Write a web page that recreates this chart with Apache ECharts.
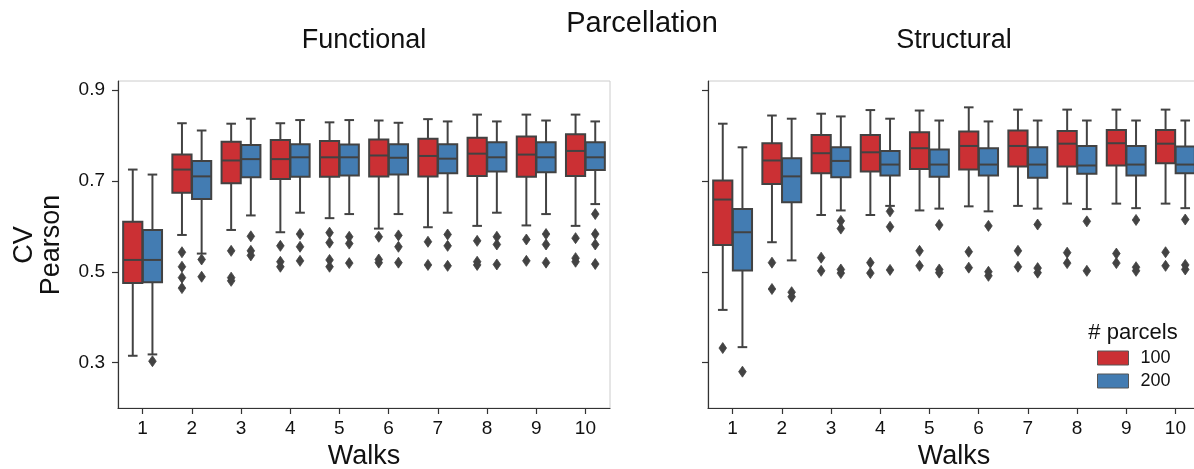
<!DOCTYPE html>
<html>
<head>
<meta charset="utf-8">
<script src="https://cdn.jsdelivr.net/npm/echarts@6/dist/echarts.min.js"></script>
<style>
html,body{margin:0;padding:0;background:#ffffff;}
#chart{width:1194px;height:469px;}
</style>
</head>
<body>
<div id="chart"></div>
<script>
// ---------------- data ----------------
const walks = ['1','2','3','4','5','6','7','8','9','10'];
const parcels = ['100','200'];
const yTicks = [0.3, 0.5, 0.7, 0.9];

// box stats per walk: [lower whisker, Q1, median, Q3, upper whisker]
const funcBox100 = [
  [0.315,0.475,0.526,0.610,0.725],[0.581,0.674,0.725,0.758,0.827],[0.592,0.695,0.745,0.786,0.826],
  [0.587,0.704,0.748,0.790,0.827],[0.618,0.709,0.752,0.788,0.829],[0.595,0.710,0.756,0.791,0.833],
  [0.598,0.710,0.755,0.793,0.836],[0.601,0.711,0.760,0.795,0.846],[0.602,0.709,0.758,0.798,0.846],
  [0.601,0.711,0.766,0.803,0.846]
];
const funcBox200 = [
  [0.318,0.477,0.526,0.592,0.714],[0.540,0.660,0.710,0.744,0.811],[0.624,0.708,0.748,0.779,0.837],
  [0.630,0.709,0.752,0.781,0.834],[0.627,0.712,0.752,0.780,0.834],[0.627,0.714,0.751,0.781,0.828],
  [0.630,0.717,0.749,0.781,0.831],[0.630,0.721,0.752,0.785,0.831],[0.627,0.719,0.752,0.785,0.833],
  [0.649,0.724,0.752,0.785,0.831]
];
const structBox100 = [
  [0.416,0.559,0.659,0.701,0.826],[0.565,0.693,0.745,0.783,0.844],[0.625,0.717,0.761,0.801,0.848],
  [0.625,0.721,0.763,0.801,0.856],[0.635,0.726,0.772,0.807,0.855],[0.644,0.725,0.777,0.809,0.862],
  [0.645,0.732,0.777,0.811,0.857],[0.650,0.732,0.782,0.810,0.857],[0.650,0.734,0.783,0.812,0.857],
  [0.650,0.739,0.782,0.812,0.857]
];
const structBox200 = [
  [0.334,0.503,0.587,0.638,0.774],[0.525,0.653,0.710,0.750,0.837],[0.635,0.708,0.744,0.774,0.842],
  [0.645,0.712,0.736,0.766,0.837],[0.639,0.709,0.736,0.769,0.833],[0.633,0.712,0.736,0.772,0.831],
  [0.639,0.707,0.736,0.774,0.833],[0.638,0.716,0.734,0.777,0.833],[0.640,0.712,0.736,0.777,0.833],
  [0.640,0.717,0.736,0.776,0.833]
];

// outliers per walk
const funcOut100 = [
  [],[0.543,0.511,0.487,0.464],[0.546,0.487,0.480],[0.557,0.522,0.511],[0.586,0.564,0.526,0.511],
  [0.577,0.527,0.520],[0.566,0.515],[0.568,0.522,0.515],[0.571,0.524],[0.574,0.530,0.522]
];
const funcOut200 = [
  [0.303],[0.527,0.489],[0.578,0.546,0.536],[0.583,0.555,0.524],[0.577,0.562,0.519],
  [0.580,0.555,0.520],[0.582,0.557,0.513],[0.577,0.560,0.516],[0.583,0.560,0.520],[0.627,0.583,0.560,0.517]
];
const structOut100 = [
  [0.332],[0.520,0.462],[0.531,0.502],[0.520,0.497],[0.546,0.513],
  [0.544,0.509],[0.546,0.511],[0.542,0.519],[0.540,0.519],[0.543,0.513]
];
const structOut200 = [
  [0.280],[0.455,0.445],[0.612,0.595,0.505,0.497],[0.633,0.599,0.504],[0.603,0.505,0.498],
  [0.601,0.500,0.491],[0.604,0.508,0.498],[0.611,0.502],[0.614,0.510,0.502],[0.615,0.515,0.505]
];

// ---------------- styling ----------------
const RED = '#CB3034';
const BLUE = '#437CB2';
const EDGE = '#424242';
const AXIS = '#333333';
const FONT = '"Liberation Sans", Arial, Helvetica, sans-serif';

function boxData(stats){ return stats.map((s,i)=>[i].concat(s)); }
function outData(outs){
  const d=[]; outs.forEach((arr,i)=>arr.forEach(v=>d.push([i,v]))); return d;
}

function boxRenderer(sign, color){
  return function(params, api){
    const xi = api.value(0);
    const band = api.size([1,0])[0];
    const w = band*0.39;
    const cx = api.coord([xi, api.value(3)])[0] + sign*band*0.2;
    const y = k => api.coord([xi, api.value(k)])[1];
    const yLo=y(1), yQ1=y(2), yMed=y(3), yQ3=y(4), yHi=y(5);
    const ls = {stroke:EDGE, lineWidth:2};
    return {type:'group', children:[
      {type:'line', shape:{x1:cx,y1:yQ3,x2:cx,y2:yHi}, style:ls},
      {type:'line', shape:{x1:cx,y1:yQ1,x2:cx,y2:yLo}, style:ls},
      {type:'line', shape:{x1:cx-w/4,y1:yHi,x2:cx+w/4,y2:yHi}, style:ls},
      {type:'line', shape:{x1:cx-w/4,y1:yLo,x2:cx+w/4,y2:yLo}, style:ls},
      {type:'rect', shape:{x:cx-w/2,y:yQ3,width:w,height:yQ1-yQ3}, style:{fill:color, stroke:EDGE, lineWidth:2}},
      {type:'line', shape:{x1:cx-w/2,y1:yMed,x2:cx+w/2,y2:yMed}, style:ls}
    ]};
  };
}
function outRenderer(sign){
  return function(params, api){
    const band = api.size([1,0])[0];
    const p = api.coord([api.value(0), api.value(1)]);
    const cx = p[0] + sign*band*0.2, cy = p[1];
    return {type:'polygon', shape:{points:[[cx,cy-5.5],[cx+3.8,cy],[cx,cy+5.5],[cx-3.8,cy]]},
            style:{fill:EDGE, stroke:EDGE, lineWidth:0.8}};
  };
}

function panelSeries(gi, box100, box200, out100, out200){
  return [
    {type:'custom', name:parcels[0], xAxisIndex:gi, yAxisIndex:gi, renderItem:boxRenderer(-1,RED),
     data:boxData(box100), encode:{x:0, y:[1,2,3,4,5]}, itemStyle:{color:RED}},
    {type:'custom', name:parcels[1], xAxisIndex:gi, yAxisIndex:gi, renderItem:boxRenderer(1,BLUE),
     data:boxData(box200), encode:{x:0, y:[1,2,3,4,5]}, itemStyle:{color:BLUE}},
    {type:'custom', name:parcels[0], xAxisIndex:gi, yAxisIndex:gi, renderItem:outRenderer(-1),
     data:outData(out100), encode:{x:0, y:1}, itemStyle:{color:RED}},
    {type:'custom', name:parcels[1], xAxisIndex:gi, yAxisIndex:gi, renderItem:outRenderer(1),
     data:outData(out200), encode:{x:0, y:1}, itemStyle:{color:BLUE}}
  ];
}

function xAxisCfg(gi){
  return {
    type:'category', gridIndex:gi, data:walks, boundaryGap:true,
    axisLine:{show:true, lineStyle:{color:AXIS, width:1.2}},
    axisTick:{show:true, alignWithLabel:true, length:6, lineStyle:{color:AXIS, width:1.2}},
    axisLabel:{fontSize:19, color:'#111', margin:11, fontFamily:FONT},
    name:'Walks', nameLocation:'middle', nameGap:35,
    nameTextStyle:{fontSize:27, color:'#111', fontFamily:FONT},
    splitLine:{show:false}
  };
}
function yAxisCfg(gi, showLabels){
  return {
    type:'value', gridIndex:gi, min:0.2, max:0.92,
    axisLine:{show:true, lineStyle:{color:AXIS, width:1.2}},
    axisTick:{show:true, length:6, customValues:yTicks, lineStyle:{color:AXIS, width:1.2}},
    axisLabel:{show:showLabels, customValues:yTicks, fontSize:19, color:'#111', margin:13,
               fontFamily:FONT, formatter:v=>Number(v).toFixed(1)},
    splitLine:{show:false}
  };
}

const chart = echarts.init(document.getElementById('chart'), null, {renderer:'canvas'});
chart.setOption({
  backgroundColor:'#ffffff',
  animation:false,
  textStyle:{fontFamily:FONT},
  grid:[
    {left:118, top:81, width:492, height:327, show:true, borderColor:'#cccccc', borderWidth:1,
     backgroundColor:'transparent', containLabel:false, outerBoundsMode:'none'},
    {left:708, top:81, width:492, height:327, show:true, borderColor:'#cccccc', borderWidth:1,
     backgroundColor:'transparent', containLabel:false, outerBoundsMode:'none'}
  ],
  xAxis:[xAxisCfg(0), xAxisCfg(1)],
  yAxis:[yAxisCfg(0,true), yAxisCfg(1,false)],
  legend:{
    orient:'vertical', left:1092, top:344, itemWidth:31, itemHeight:14, itemGap:5,
    icon:'rect', selectedMode:false,
    textStyle:{fontSize:18, color:'#111', fontFamily:FONT, padding:[0,0,0,7]},
    data:[
      {name:parcels[0], itemStyle:{color:RED, borderColor:'#555', borderWidth:1}},
      {name:parcels[1], itemStyle:{color:BLUE, borderColor:'#555', borderWidth:1}}
    ]
  },
  graphic:[
    {type:'text', x:642, y:24, style:{text:'Parcellation', font:'29px '+FONT, fill:'#111', textAlign:'center', textVerticalAlign:'middle'}},
    {type:'text', x:364, y:41, style:{text:'Functional', font:'27px '+FONT, fill:'#111', textAlign:'center', textVerticalAlign:'middle'}},
    {type:'text', x:954, y:41, style:{text:'Structural', font:'27px '+FONT, fill:'#111', textAlign:'center', textVerticalAlign:'middle'}},
    {type:'text', x:38, y:245, rotation:Math.PI/2, style:{text:'CV\nPearson', font:'27px '+FONT, lineHeight:27, fill:'#111', textAlign:'center', textVerticalAlign:'middle'}},
    {type:'text', x:1133, y:333, style:{text:'# parcels', font:'22px '+FONT, fill:'#111', textAlign:'center', textVerticalAlign:'middle'}}
  ],
  series:[].concat(
    panelSeries(0, funcBox100, funcBox200, funcOut100, funcOut200),
    panelSeries(1, structBox100, structBox200, structOut100, structOut200)
  )
});
</script>
</body>
</html>
